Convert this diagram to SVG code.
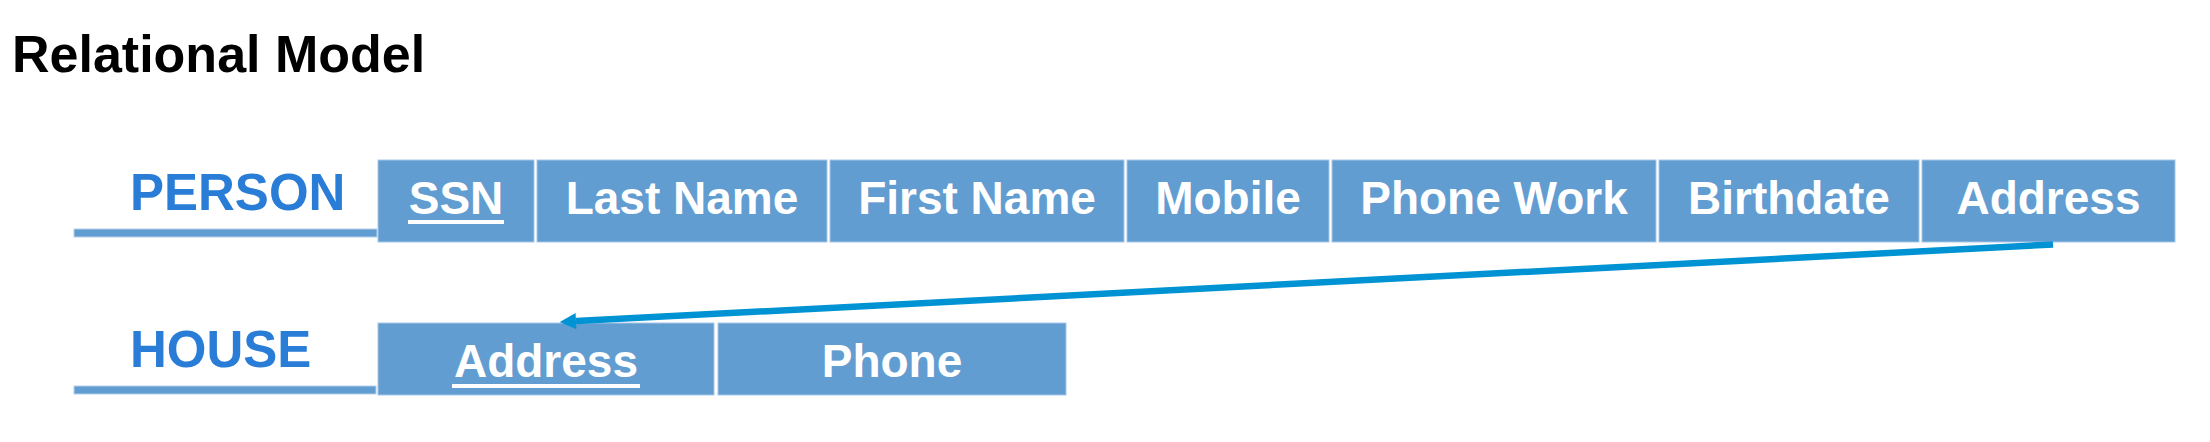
<svg xmlns="http://www.w3.org/2000/svg" width="2210" height="442" viewBox="0 0 2210 442">
  <defs>
    <style>
      .title { font-family: "Liberation Sans", Arial, sans-serif; font-weight: bold; font-size: 52px; fill: #000000; }
      .label { font-family: "Liberation Sans", Arial, sans-serif; font-weight: bold; font-size: 51px; fill: #2A7DD6; }
      .cell { fill: #619DD1; stroke: #A7C7E7; stroke-width: 1; }
      .bar { fill: #619DD1; stroke: #B5D0EB; stroke-width: 1; }
      .ctext { font-family: "Liberation Sans", Arial, sans-serif; font-weight: bold; font-size: 46px; fill: #FFFFFF; text-anchor: middle; }
      .uline { fill: #FFFFFF; }
      .conn { stroke: #0093D3; stroke-width: 6.5; fill: none; }
    </style>
    <marker id="arrow" viewBox="0 0 10 10" refX="0" refY="5" markerWidth="2.6" markerHeight="2.5" markerUnits="strokeWidth" orient="auto">
      <path d="M0,0 L10,5 L0,10 Z" fill="#0093D3"/>
    </marker>
  </defs>

  <text class="title" x="12" y="72">Relational Model</text>

  <g id="person">
    <text class="label" x="130" y="210">PERSON</text>
    <rect class="bar" x="74" y="229" width="303" height="8"/>
    <g id="person-ssn">
      <rect class="cell" x="378" y="160" width="156" height="82"/>
      <text class="ctext" x="456" y="214">SSN</text>
      <rect class="uline" x="408" y="220" width="96" height="4"/>
    </g>
    <g id="person-lastname">
      <rect class="cell" x="537" y="160" width="290" height="82"/>
      <text class="ctext" x="682" y="214">Last Name</text>
    </g>
    <g id="person-firstname">
      <rect class="cell" x="830" y="160" width="294" height="82"/>
      <text class="ctext" x="977" y="214">First Name</text>
    </g>
    <g id="person-mobile">
      <rect class="cell" x="1127" y="160" width="202" height="82"/>
      <text class="ctext" x="1228" y="214">Mobile</text>
    </g>
    <g id="person-phonework">
      <rect class="cell" x="1332" y="160" width="324" height="82"/>
      <text class="ctext" x="1494" y="214">Phone Work</text>
    </g>
    <g id="person-birthdate">
      <rect class="cell" x="1659" y="160" width="260" height="82"/>
      <text class="ctext" x="1789" y="214">Birthdate</text>
    </g>
    <g id="person-address">
      <rect class="cell" x="1922" y="160" width="253" height="82"/>
      <text class="ctext" x="2048.5" y="214">Address</text>
    </g>
  </g>

  <g id="house">
    <text class="label" x="130" y="367">HOUSE</text>
    <rect class="bar" x="74" y="386" width="302" height="8"/>
    <g id="house-address">
      <rect class="cell" x="378" y="323" width="336" height="72"/>
      <text class="ctext" x="546" y="377">Address</text>
      <rect class="uline" x="452" y="384" width="188" height="4"/>
    </g>
    <g id="house-phone">
      <rect class="cell" x="718" y="323" width="348" height="72"/>
      <text class="ctext" x="892" y="377">Phone</text>
    </g>
  </g>

  <g id="connectors">
    <line class="conn" x1="2053" y1="244.5" x2="576" y2="321.1" marker-end="url(#arrow)"/>
  </g>
</svg>
